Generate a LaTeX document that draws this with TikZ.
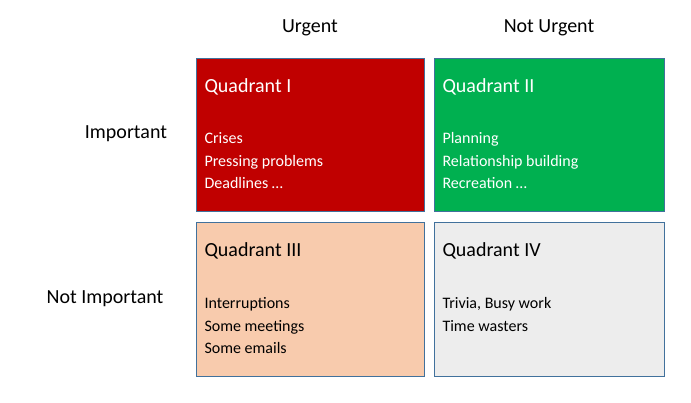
\documentclass[tikz,border=0pt]{standalone}
\usepackage{fontspec}
\setmainfont{Carlito}
\definecolor{qred}{HTML}{C00000}
\definecolor{qgreen}{HTML}{00B050}
\definecolor{qpeach}{HTML}{F8CBAD}
\definecolor{qgray}{HTML}{EDEDED}
\definecolor{qedge}{HTML}{41719C}
\begin{document}
\begin{tikzpicture}[x=1pt,y=-1pt]
	\tikzset{quad style/.style={draw=qedge, line width=0.8pt},
		head style/.style={font=\fontsize{20}{24}\selectfont},
		title style/.style={anchor=west, font=\fontsize{20}{24}\selectfont},
		body style/.style={anchor=north west, align=left, font=\fontsize{16}{22.5}\selectfont}}
\useasboundingbox (0,0) rectangle (691,402);

\fill[qred]   (196,58)  rectangle (424,211);
\draw[quad style] (196,58)  rectangle (424,211);
\fill[qgreen] (434,58)  rectangle (664,211);
\draw[quad style] (434,58)  rectangle (664,211);
\fill[qpeach] (196,222) rectangle (424,376);
\draw[quad style] (196,222) rectangle (424,376);
\fill[qgray]  (434,222) rectangle (664,376);
\draw[quad style] (434,222) rectangle (664,376);

\node[head style] (urg)   at (310,28)  {Urgent};
\node[head style] (nurg)  at (549,28)  {Not Urgent};
\node[head style] (imp)   at (126,134) {Important};
\node[head style] (nimp)  at (105,299) {Not Important};

\node[title style, text=white] (q1) at (201,87) {Quadrant I};
\node[body style, text=white] (b1) at (201,129) {Crises\\Pressing problems\\Deadlines \dots};
\node[title style, text=white] (q2) at (439,87) {Quadrant II};
\node[body style, text=white] (b2) at (439,129) {Planning\\Relationship building\\Recreation \dots};
\node[title style] (q3) at (201,251) {Quadrant III};
\node[body style] (b3) at (201,294) {Interruptions\\Some meetings\\Some emails};
\node[title style] (q4) at (439,251) {Quadrant IV};
\node[body style] (b4) at (439,294) {Trivia, Busy work\\Time wasters};
\end{tikzpicture}
\end{document}
